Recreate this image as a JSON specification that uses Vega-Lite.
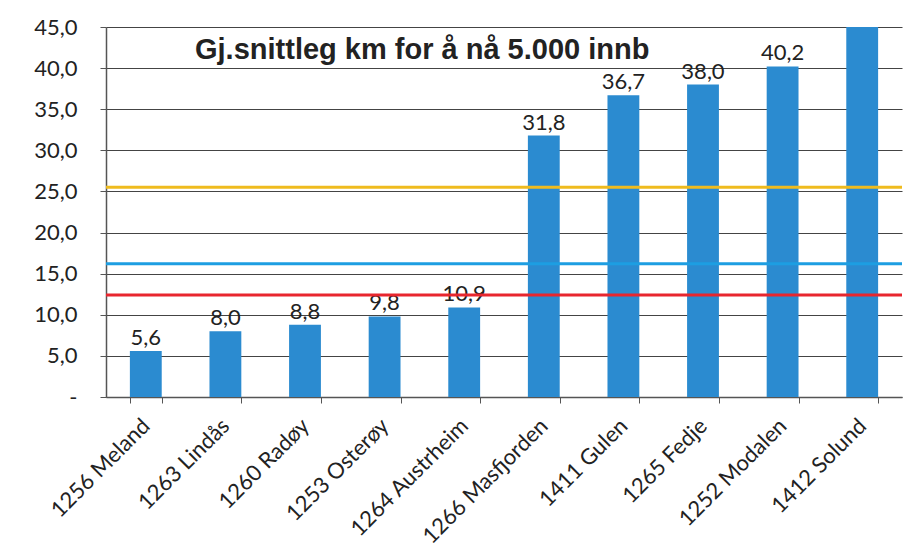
{
  "$schema": "https://vega.github.io/schema/vega-lite/v6.json",
  "width": 796,
  "height": 370,
  "autosize": "none",
  "padding": {"left": 106, "top": 27, "right": 15, "bottom": 161},
  "background": "white",
  "config": {
    "locale": {"number": {"decimal": ",", "thousands": " ", "grouping": [3], "currency": ["", " kr"]}},
    "view": {"stroke": null},
    "font": "Lato"
  },
  "title": {
    "text": "Gj.snittleg km for å nå 5.000 innb",
    "anchor": "start",
    "frame": "group",
    "dx": 89,
    "offset": -72,
    "baseline": "alphabetic",
    "fontSize": 29,
    "font": "Liberation Sans",
    "fontWeight": "bold",
    "color": "#222222"
  },
  "datasets": {
    "bars": [
      {"kommune": "1256 Meland", "km": 5.6},
      {"kommune": "1263 Lindås", "km": 8.0},
      {"kommune": "1260 Radøy", "km": 8.8},
      {"kommune": "1253 Osterøy", "km": 9.8},
      {"kommune": "1264 Austrheim", "km": 10.9},
      {"kommune": "1266 Masfjorden", "km": 31.8},
      {"kommune": "1411 Gulen", "km": 36.7},
      {"kommune": "1265 Fedje", "km": 38.0},
      {"kommune": "1252 Modalen", "km": 40.2},
      {"kommune": "1412 Solund", "km": 52.0}
    ],
    "rules": [
      {"serie": "gul", "km": 25.5},
      {"serie": "blå", "km": 16.2},
      {"serie": "rød", "km": 12.4}
    ]
  },
  "layer": [
    {
      "data": {"name": "bars"},
      "mark": {"type": "bar", "color": "#2b8bd0", "clip": true},
      "encoding": {
        "x": {
          "field": "kommune",
          "type": "nominal",
          "sort": null,
          "scale": {"paddingInner": 0.6, "paddingOuter": 0.3},
          "axis": {
            "title": null,
            "labelAngle": -45,
            "labelAlign": "right",
            "labelBaseline": "middle",
            "labelPadding": 19,
            "labelFontSize": 22,
            "labelColor": "#222222",
            "labelOverlap": false,
            "labelLimit": 400,
            "tickBand": "extent",
            "tickSize": 6,
            "tickColor": "#555555",
            "domainColor": "#555555",
            "domainWidth": 1.5
          }
        },
        "y": {
          "field": "km",
          "type": "quantitative",
          "scale": {"domain": [0, 45]},
          "axis": {
            "title": null,
            "values": [0, 5, 10, 15, 20, 25, 30, 35, 40, 45],
            "format": ".1f",
            "labelExpr": "datum.value == 0 ? '-' : datum.label",
            "labelFontSize": 22,
            "labelColor": "#222222",
            "labelPadding": 23,
            "tickSize": 6,
            "tickColor": "#555555",
            "domainColor": "#555555",
            "domainWidth": 1.5,
            "grid": true,
            "gridColor": "#444444",
            "gridWidth": 1
          }
        }
      }
    },
    {
      "data": {"name": "bars"},
      "transform": [{"filter": "datum.km <= 45"}],
      "mark": {"type": "text", "baseline": "bottom", "dy": -1, "fontSize": 22, "color": "#222222"},
      "encoding": {
        "x": {"field": "kommune", "type": "nominal", "sort": null},
        "y": {"field": "km", "type": "quantitative"},
        "text": {"field": "km", "type": "quantitative", "format": ".1f"}
      }
    },
    {
      "data": {"name": "rules"},
      "mark": {"type": "rule", "strokeWidth": 3},
      "encoding": {
        "y": {"field": "km", "type": "quantitative"},
        "color": {
          "field": "serie",
          "type": "nominal",
          "scale": {"domain": ["gul", "blå", "rød"], "range": ["#efbb1e", "#1d9ee2", "#e8262e"]},
          "legend": null
        }
      }
    }
  ]
}
